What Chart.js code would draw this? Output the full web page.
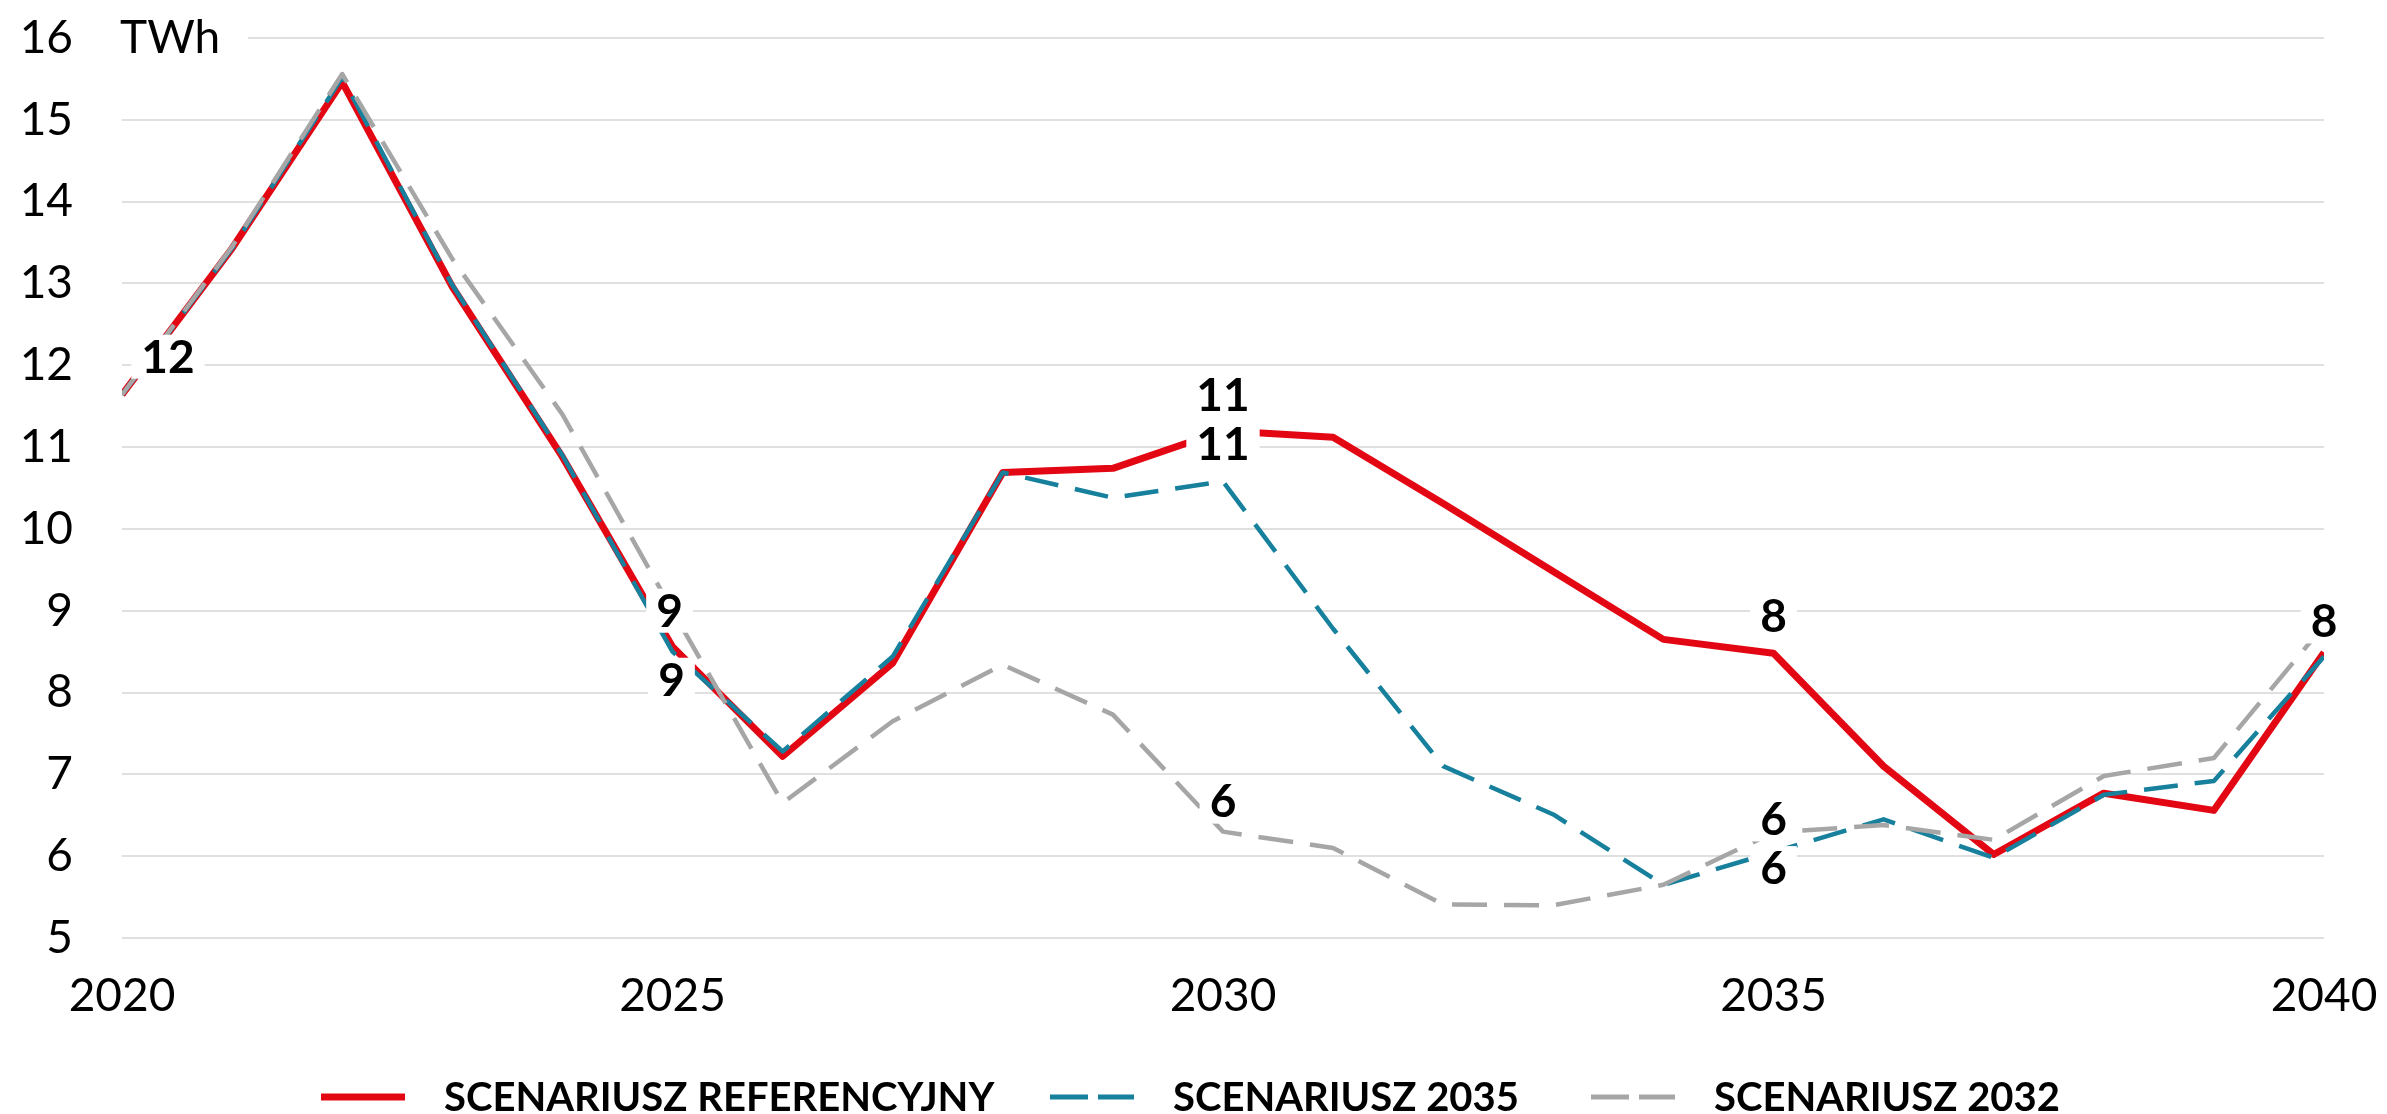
<!DOCTYPE html>
<html>
<head>
<meta charset="utf-8">
<script src="https://cdn.jsdelivr.net/npm/chart.js@4/dist/chart.umd.min.js"></script>
<style>
html,body{margin:0;padding:0;background:#fff;}
#wrap{width:2387px;height:1114px;position:relative;}
</style>
</head>
<body>
<div id="wrap"><canvas id="c" width="2387" height="1114"></canvas></div>
<script>
// ---- DATA ----
const years = [2020,2021,2022,2023,2024,2025,2026,2027,2028,2029,2030,2031,2032,2033,2034,2035,2036,2037,2038,2039,2040];
const refValues   = [11.64,13.43,15.46,12.96,10.88,8.56,7.22,8.36,10.69,10.74,11.20,11.12,10.31,9.48,8.65,8.48,7.10,6.02,6.77,6.56,8.49];
const s2035Values = [11.64,13.43,15.52,12.98,10.90,8.50,7.28,8.44,10.69,10.38,10.58,8.78,7.10,6.51,5.65,6.05,6.45,5.98,6.75,6.92,8.44];
const s2032Values = [11.64,13.45,15.56,13.30,11.40,9.00,6.65,7.65,8.34,7.73,6.30,6.10,5.41,5.40,5.65,6.29,6.38,6.20,6.98,7.20,8.82];
const seriesNames = ['SCENARIUSZ REFERENCYJNY','SCENARIUSZ 2035','SCENARIUSZ 2032'];
const xTickLabels = [2020,2025,2030,2035,2040];
const yMin = 5, yMax = 16, yStep = 1;
const unitLabel = 'TWh';
// points that carry a value label: [series index, year]
const labelledPoints = [[0,2020],[2,2025],[0,2025],[0,2030],[1,2030],[2,2030],[0,2035],[2,2035],[1,2035],[0,2040]];

// ---- STYLE ----
const FONT = "Lato, 'Open Sans', sans-serif";
const colors = ['#e30613','#17809d','#a6a6a6'];
const widths = [7,4.5,4.5];
const dashes = [[],[34,17],[35,17]];
const legendDashes = [[],[38,10],[38,10]];
const legendWidths = [7,5,5];
const labelOffsets = [[46,-38],[-3,0],[-1,33],[0,-36],[0,-37],[0,-30],[0,-37],[0,-13],[0,16],[0,-31]];
const legendLineX = [321,1050,1591];
const legendTextGap = 39;
const legendY = 1097;

const seriesValues = [refValues, s2035Values, s2032Values];

const unitPlugin = {
  id: 'unitLabel',
  beforeDatasetsDraw(chart) {
    const ctx = chart.ctx, ys = chart.scales.y, area = chart.chartArea;
    const y = ys.getPixelForValue(yMax);
    ctx.save();
    ctx.fillStyle = '#fff';
    ctx.fillRect(area.left - 2, y - 24, 128, 48);
    ctx.fillStyle = '#000';
    ctx.font = '46px ' + FONT;
    ctx.textAlign = 'left';
    ctx.textBaseline = 'middle';
    ctx.fillText(unitLabel, area.left - 2, y);
    ctx.restore();
  }
};

const pointLabelPlugin = {
  id: 'pointLabels',
  afterDatasetsDraw(chart) {
    const ctx = chart.ctx;
    ctx.save();
    ctx.font = 'bold 46px ' + FONT;
    ctx.textAlign = 'center';
    ctx.textBaseline = 'middle';
    labelledPoints.forEach(([ds, yr], k) => {
      const idx = years.indexOf(yr);
      const el = chart.getDatasetMeta(ds).data[idx];
      const v = chart.data.datasets[ds].data[idx].y;
      const txt = String(Math.round(v));
      const x = el.x + labelOffsets[k][0];
      const y = el.y + labelOffsets[k][1];
      const w = ctx.measureText(txt).width + 20, h = 44;
      ctx.fillStyle = '#fff';
      ctx.fillRect(x - w / 2, y - h / 2, w, h);
      ctx.fillStyle = '#000';
      ctx.fillText(txt, x, y + 1);
    });
    ctx.restore();
  }
};

const legendPlugin = {
  id: 'bottomLegend',
  afterDraw(chart) {
    const ctx = chart.ctx;
    ctx.save();
    ctx.font = 'bold 40px ' + FONT;
    ctx.textAlign = 'left';
    ctx.textBaseline = 'middle';
    chart.data.datasets.forEach((ds, i) => {
      const x0 = legendLineX[i];
      ctx.strokeStyle = ds.borderColor;
      ctx.lineWidth = legendWidths[i];
      ctx.lineCap = 'butt';
      ctx.setLineDash(legendDashes[i]);
      ctx.beginPath();
      ctx.moveTo(x0, legendY);
      ctx.lineTo(x0 + 84, legendY);
      ctx.stroke();
      ctx.setLineDash([]);
      ctx.fillStyle = '#000';
      ctx.fillText(ds.label, x0 + 84 + legendTextGap, legendY + 1);
    });
    ctx.restore();
  }
};

function draw() {
  const datasets = seriesValues.map((vals, i) => ({
    label: seriesNames[i],
    data: years.map((yr, j) => ({x: yr, y: vals[j]})),
    borderColor: colors[i],
    backgroundColor: colors[i],
    borderWidth: widths[i],
    borderDash: dashes[i],
    borderCapStyle: 'butt',
    borderJoinStyle: 'round',
    pointRadius: 0,
    pointHoverRadius: 0,
    tension: 0,
    fill: false,
    order: 3 - i
  }));
  new Chart(document.getElementById('c'), {
    type: 'line',
    data: { datasets },
    options: {
      responsive: false,
      animation: false,
      devicePixelRatio: 1,
      layout: { padding: { top: 38, right: 63, bottom: 0, left: 0 } },
      plugins: { legend: { display: false }, tooltip: { enabled: false } },
      scales: {
        x: {
          type: 'linear', min: years[0], max: years[years.length - 1],
          grid: { display: false, drawTicks: false },
          border: { display: false },
          ticks: {
            padding: 31, color: '#000', maxRotation: 0, autoSkip: false,
            font: { family: FONT, size: 46 },
            callback: v => String(v)
          },
          afterBuildTicks: s => { s.ticks = xTickLabels.map(v => ({ value: v })); },
          afterFit: s => { s.height = 176; s.paddingLeft = 0; s.paddingRight = 0; }
        },
        y: {
          min: yMin, max: yMax,
          grid: { color: '#e0e0e0', lineWidth: 2, drawTicks: false },
          border: { display: false },
          ticks: {
            stepSize: yStep, padding: 49, color: '#000',
            font: { family: FONT, size: 46 }
          },
          afterFit: s => { s.width = 122; s.paddingTop = 0; s.paddingBottom = 0; }
        }
      }
    },
    plugins: [unitPlugin, pointLabelPlugin, legendPlugin]
  });
}

if (document.fonts && document.fonts.load) {
  Promise.all([
    document.fonts.load('46px Lato'),
    document.fonts.load('bold 46px Lato'),
    document.fonts.load('bold 40px Lato')
  ]).then(draw, draw);
} else {
  draw();
}
</script>
</body>
</html>
